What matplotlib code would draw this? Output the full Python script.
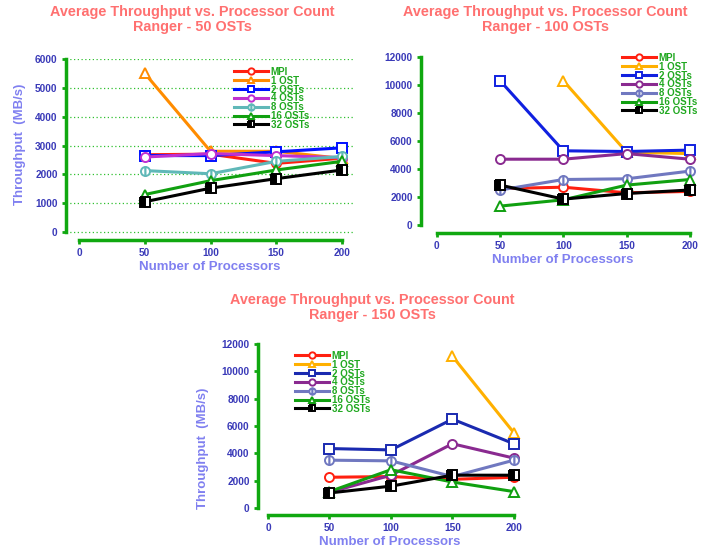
import numpy as np
import matplotlib
matplotlib.use("Agg")
import matplotlib.pyplot as plt

plt.rcParams['font.family'] = ['Liberation Sans', 'DejaVu Sans']

nan = np.nan
procs = [50, 100, 150, 200]
labels = ["MPI", "1 OST", "2 OSTs", "4 OSTs", "8 OSTs", "16 OSTs", "32 OSTs"]

# Ranger - 50 OSTs
osts50 = {
    "MPI": [2680, 2700, 2380, 2560],
    "1 OST": [5500, 2800, 2800, 2550],
    "2 OSTs": [2650, 2650, 2780, 2920],
    "4 OSTs": [2600, 2720, 2650, 2580],
    "8 OSTs": [2130, 2020, 2450, 2620],
    "16 OSTs": [1300, 1780, 2150, 2450],
    "32 OSTs": [1050, 1520, 1850, 2150],
}
# Ranger - 100 OSTs
osts100 = {
    "MPI": [2600, 2700, 2300, 2400],
    "1 OST": [nan, 10300, 5200, 5100],
    "2 OSTs": [10300, 5300, 5250, 5350],
    "4 OSTs": [4700, 4700, 5100, 4700],
    "8 OSTs": [2500, 3250, 3300, 3850],
    "16 OSTs": [1350, 1800, 2850, 3250],
    "32 OSTs": [2850, 1850, 2250, 2500],
}
# Ranger - 150 OSTs
osts150 = {
    "MPI": [2250, 2300, 2100, 2250],
    "1 OST": [nan, nan, 11100, 5500],
    "2 OSTs": [4350, 4250, 6500, 4700],
    "4 OSTs": [1150, 2400, 4700, 3650],
    "8 OSTs": [3500, 3450, 2300, 3500],
    "16 OSTs": [1200, 2800, 1900, 1200],
    "32 OSTs": [1100, 1600, 2400, 2400],
}

colors_a = ["#ff2010", "#ff8c00", "#0010ff", "#c030d0", "#60b8b8", "#10a010", "#000000"]
colors_b = ["#ff2010", "#ffb000", "#1020e0", "#8a2a90", "#7078c0", "#10a010", "#000000"]
colors_c = ["#ff2010", "#ffb000", "#1a2ab0", "#8a2a90", "#7078c0", "#10a010", "#000000"]
markers = ["o", "^", "s", "o", "o", "^", "s"]
fills = ["full", "full", "full", "full", "left", "full", "left"]
solid_half = [False, False, False, False, False, False, True]

green = "#10a810"
tick_blue = "#3a3ab8"
label_blue = "#8080f0"
title_red = "#ff7070"

W, H = 714, 550
fig = plt.figure(figsize=(W / 100, H / 100), dpi=100)


def make_axes(left, right, top, bottom, xlim, ylim, ymax, ystep, grid):
    ax = fig.add_axes([left / W, 1 - bottom / H, (right - left) / W, (bottom - top) / H])
    ax.set_xlim(*xlim)
    ax.set_ylim(ylim, ymax)
    for s in ["top", "right"]:
        ax.spines[s].set_visible(False)
    for s in ["left", "bottom"]:
        ax.spines[s].set_color(green)
        ax.spines[s].set_linewidth(2.5)
    ax.spines["left"].set_bounds(0, ymax)
    ax.spines["bottom"].set_bounds(0, 200)
    ax.set_xticks([0, 50, 100, 150, 200])
    ax.set_yticks(np.arange(0, ymax + 1, ystep))
    ax.tick_params(direction="out", length=3, width=2, color=green,
                   labelcolor=tick_blue, labelsize=7.3)
    ax.tick_params(axis="y", pad=3)
    ax.tick_params(axis="x", pad=3)
    for t in ax.get_xticklabels() + ax.get_yticklabels():
        t.set_fontweight("bold")
    if grid:
        ax.yaxis.grid(True, color="#30c030", linestyle=(0, (1, 2)), linewidth=0.9)
    return ax


def draw(ax, data, colors, leg_x, leg_y):
    for i, name in enumerate(labels):
        face = colors[i] if solid_half[i] else "white"
        ax.plot(procs, data[name], color=colors[i], linewidth=2.2, marker=markers[i],
                markersize=6.5, markerfacecolor=face, markeredgecolor=colors[i],
                markeredgewidth=1.4, fillstyle=fills[i], markerfacecoloralt="white",
                label=name, clip_on=False)
    leg = ax.legend(loc="upper left", bbox_to_anchor=(leg_x / W, 1 - leg_y / H),
                    bbox_transform=fig.transFigure, frameon=False, borderpad=0,
                    labelspacing=-0.12, handlelength=3.5, handletextpad=0.3,
                    markerscale=0.7,
                    prop={"size": 7, "weight": "bold"}, labelcolor="#20a820")
    return leg


def titles(cx, cy, osts):
    fig.text(cx / W, 1 - cy / H,
             "Average Throughput vs. Processor Count\nRanger - %d OSTs" % osts,
             ha="center", va="center", color=title_red, fontsize=10.4,
             fontweight="bold", linespacing=1.05)


def axis_labels(ax, xl, yl):
    ax.set_xlabel("Number of Processors", color=label_blue, fontsize=9.5, fontweight="bold")
    ax.xaxis.set_label_coords(xl[0] / W, 1 - xl[1] / H, transform=fig.transFigure)
    ax.xaxis.label.set_va("center")
    if yl is not None:
        ax.set_ylabel("Throughput  (MB/s)", color=label_blue, fontsize=9.5, fontweight="bold")
        ax.yaxis.set_label_coords(yl[0] / W, 1 - yl[1] / H, transform=fig.transFigure)
        ax.yaxis.label.set_va("center")


# 50 OSTs
ax1 = make_axes(66, 355, 59, 240, (-10, 210), -277, 6000, 1000, True)
draw(ax1, osts50, colors_a, 229, 62)
titles(192, 19.5, 50)
axis_labels(ax1, (210, 267), (20, 144))

# 100 OSTs
ax2 = make_axes(421, 700, 57, 233, (-12.6, 208), -571, 12000, 2000, False)
draw(ax2, osts100, colors_b, 617, 48)
titles(545, 19.5, 100)
axis_labels(ax2, (563, 260), None)

# 150 OSTs
ax3 = make_axes(258, 525, 344, 515, (-8.1, 209), -512, 12000, 2000, False)
draw(ax3, osts150, colors_c, 290, 346)
titles(372, 307.5, 150)
axis_labels(ax3, (390, 542), (203, 448))

fig.savefig("out.png", dpi=100)
